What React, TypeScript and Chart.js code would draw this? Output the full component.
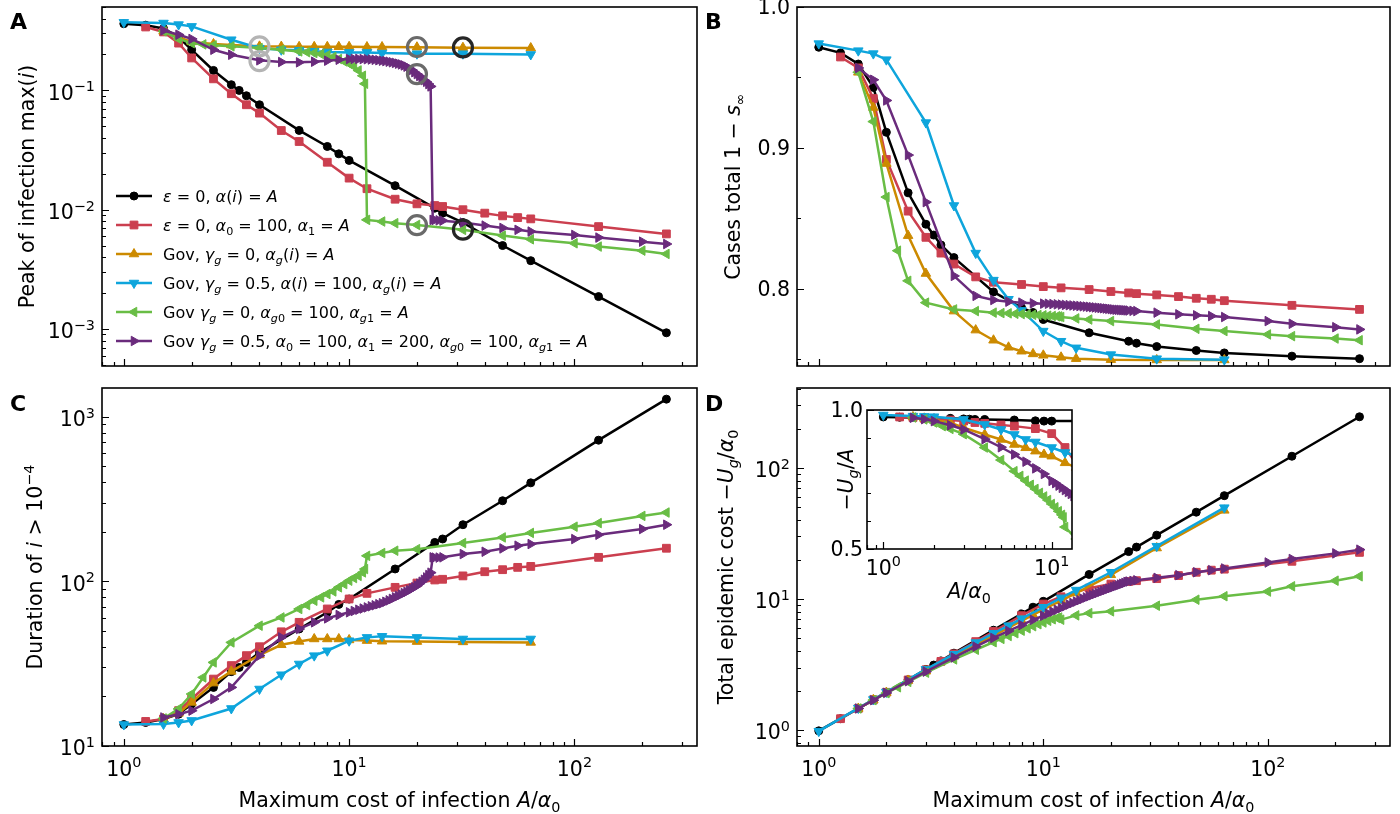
import React, { useEffect, useRef } from 'react';
import { Chart, registerables } from 'chart.js';

Chart.register(...registerables);

const W = 1400;
const H = 814;
const FONT = '"DejaVu Sans", "Liberation Sans", sans-serif';

const C_BLACK = '#000000';
const C_RED = '#cb3f4f';
const C_ORANGE = '#cc8a00';
const C_CYAN = '#0ea5dc';
const C_GREEN = '#69bd45';
const C_PURPLE = '#6a2b7c';

// ---------- x values (A/alpha0) ----------
const xBlack = [1, 1.25, 1.5, 1.75, 2, 2.5, 3, 3.25, 3.5, 4, 6, 8, 9, 10, 16, 24, 26, 32, 48, 64, 128, 256];
const xRed = [1.25, 1.5, 1.75, 2, 2.5, 3, 3.5, 4, 5, 6, 8, 10, 12, 16, 20, 24, 26, 32, 40, 48, 56, 64, 128, 256];
const xOrange = [1.5, 1.75, 2, 2.5, 3, 4, 5, 6, 7, 8, 9, 10, 12, 14, 20, 32, 64];
const xCyan = [1, 1.5, 1.75, 2, 3, 4, 5, 6, 7, 8, 10, 12, 14, 20, 32, 64];
const xGreen = [1.5, 1.75, 2, 2.25, 2.5, 3, 4, 5, 6, 6.5, 7, 7.5, 8, 8.5, 9, 9.5, 10, 10.5, 11, 11.5, 11.75, 12, 14, 16, 20, 32, 48, 64, 100, 128, 200, 256];
const xPurple = [1.5, 1.75, 2, 2.5, 3, 4, 5, 6, 7, 8, 9, 10, 10.5, 11, 11.5, 12, 12.5, 13, 13.5, 14, 14.5, 15, 15.5, 16, 16.5, 17, 17.5, 18, 18.5, 19, 19.5, 20, 20.5, 21, 21.5, 22, 22.5, 23, 23.5, 24, 25, 26, 32, 40, 48, 56, 64, 100, 128, 200, 256];

// ---------- Panel A: peak of infection ----------
const blackA = [0.362, 0.352, 0.33, 0.28, 0.219, 0.147, 0.1116, 0.1, 0.0902, 0.0758, 0.0462, 0.0339, 0.0294, 0.0259, 0.0159, 0.0103, 0.00935, 0.0078, 0.00501, 0.00374, 0.00187, 0.00093];
const redA = [0.34, 0.309, 0.249, 0.187, 0.125, 0.0938, 0.0758, 0.0645, 0.0461, 0.0373, 0.025, 0.0184, 0.015, 0.01225, 0.0112, 0.01084, 0.01064, 0.01, 0.00936, 0.00888, 0.00859, 0.00838, 0.00722, 0.00627];
const orangeA = [0.313, 0.279, 0.255, 0.245, 0.24, 0.234, 0.233, 0.232, 0.232, 0.232, 0.232, 0.232, 0.231, 0.231, 0.23, 0.228, 0.2265];
const cyanA = [0.372, 0.367, 0.356, 0.344, 0.266, 0.226, 0.219, 0.2165, 0.213, 0.21, 0.208, 0.208, 0.2055, 0.203, 0.203, 0.2];
const greenA = [0.3126, 0.27, 0.249, 0.243, 0.2386, 0.234, 0.2265, 0.2195, 0.2123, 0.209, 0.2057, 0.2018, 0.1968, 0.1906, 0.1834, 0.175, 0.1675, 0.159, 0.147, 0.1327, 0.1137, 0.00822, 0.00796, 0.00771, 0.00746, 0.00678, 0.00607, 0.00565, 0.00523, 0.00491, 0.00454, 0.00426];
const purpleA = [0.318, 0.293, 0.27, 0.219, 0.199, 0.1786, 0.173, 0.1718, 0.174, 0.1774, 0.1807, 0.183,
  0.1835, 0.1835, 0.183, 0.1825, 0.1815, 0.1805, 0.179, 0.1775, 0.176, 0.174, 0.172, 0.17, 0.1675, 0.165, 0.162, 0.158, 0.153, 0.148, 0.142, 0.137, 0.132, 0.127, 0.122, 0.118, 0.113, 0.108,
  0.00822, 0.0082, 0.00815, 0.0081, 0.0078, 0.00736, 0.00704, 0.00678, 0.00656, 0.00615, 0.00584, 0.0054, 0.00516];

// highlighted points (rings) in panel A
const ringLightX = [4, 4];
const ringLightY = [0.234, 0.176];
const ringMidX = [20, 20, 20];
const ringMidY = [0.231, 0.137, 0.00744];
const ringDarkX = [32, 32];
const ringDarkY = [0.229, 0.0068];

// ---------- Panel B: cases total ----------
const blackB = [0.9714, 0.9674, 0.9595, 0.9429, 0.911, 0.868, 0.8457, 0.838, 0.831, 0.822, 0.7976, 0.7864, 0.783, 0.778, 0.7686, 0.7626, 0.7612, 0.7588, 0.756, 0.7543, 0.752, 0.7502];
const redB = [0.9645, 0.9567, 0.935, 0.8917, 0.855, 0.8364, 0.8252, 0.8174, 0.8083, 0.8045, 0.8029, 0.8014, 0.8005, 0.7993, 0.7979, 0.7969, 0.7964, 0.7955, 0.7943, 0.7931, 0.7924, 0.7914, 0.7881, 0.7852];
const orangeB = [0.9536, 0.9286, 0.8888, 0.8376, 0.8107, 0.784, 0.7705, 0.7633, 0.7583, 0.7555, 0.7536, 0.7526, 0.7512, 0.7502, 0.7495, 0.7493, 0.7493];
const cyanB = [0.974, 0.969, 0.9669, 0.9626, 0.9179, 0.859, 0.8252, 0.806, 0.7924, 0.7845, 0.7698, 0.7626, 0.7579, 0.7531, 0.7502, 0.7495];
const greenB = [0.9536, 0.9186, 0.865, 0.8269, 0.8055, 0.79, 0.7852, 0.784, 0.7829, 0.7826, 0.7824, 0.7821, 0.7819, 0.7816, 0.7814, 0.7812, 0.781, 0.7807, 0.7805, 0.7803, 0.7802, 0.7798, 0.7788, 0.778, 0.7769, 0.7745, 0.7714, 0.7698, 0.7674, 0.7662, 0.7645, 0.7633];
const purpleB = [0.9567, 0.9483, 0.9336, 0.8948, 0.8614, 0.809, 0.7948, 0.7919, 0.7907, 0.79, 0.7895, 0.7893,
  0.7892, 0.789, 0.7888, 0.7886, 0.7884, 0.7882, 0.788, 0.7878, 0.7876, 0.7874, 0.7872, 0.787, 0.7868, 0.7866, 0.7864, 0.7862, 0.786, 0.7858, 0.7856, 0.7854, 0.7852, 0.785, 0.7849, 0.7848, 0.7847, 0.7846,
  0.7845, 0.7844, 0.7842, 0.784, 0.7829, 0.7817, 0.781, 0.7805, 0.7798, 0.7769, 0.775, 0.7726, 0.771];

// ---------- Panel C: duration ----------
const blackC = [13.5, 13.9, 14.6, 15.6, 18, 22.7, 28.3, 30, 32.2, 37, 51.4, 64.9, 72.5, 78.1, 119, 172.5, 181, 221, 309, 397, 721, 1280];
const redC = [14.1, 14.6, 16.4, 19.3, 25.5, 30.8, 35.4, 40.1, 49.4, 56.4, 68, 78.2, 84.6, 92, 97.7, 102, 103, 108, 114.5, 117.8, 121.7, 123.3, 140, 159];
const orangeC = [14.6, 15.8, 18.4, 24.1, 28.4, 35.7, 41.2, 43.2, 44.7, 44.7, 44.7, 44.1, 43.7, 43.3, 43.1, 42.9, 42.6];
const cyanC = [13.5, 13.6, 13.9, 14.3, 16.9, 22.2, 27.1, 31.5, 35.4, 37.9, 43.6, 45.7, 46.4, 45.7, 44.7, 44.7];
const greenC = [14.7, 16.8, 20.7, 26.1, 32.2, 42.6, 53.8, 60.4, 68, 71.8, 76.3, 80, 83.8, 86.9, 92, 96.3, 101, 104.8, 108, 113.4, 118.9, 143, 148.7, 153.6, 157, 171, 185, 197, 215, 226, 250, 262];
const purpleC = [14.9, 15.6, 16.4, 19.3, 22.7, 35.4, 45.7, 51.4, 56.4, 59.6, 62.5, 64.9,
  66.1, 67.3, 68.4, 69.5, 70.6, 71.6, 72.7, 73.7, 75.2, 76.7, 78.3, 80, 81.6, 83.2, 84.9, 86.5, 88.4, 90.3, 92.2, 94.2, 96.9, 99.6, 102.3, 105.7, 109.3, 113,
  140, 139.5, 139.5, 140, 146.6, 151.4, 158.6, 164.8, 168.6, 180.8, 192, 208, 221];

// ---------- Panel D: total epidemic cost ----------
const blackD = [0.985, 1.22, 1.46, 1.7, 1.94, 2.42, 2.9, 3.13, 3.37, 3.86, 5.78, 7.7, 8.66, 9.6, 15.4, 23, 24.9, 30.7, 46, 61.5, 123, 246];
const redD = [1.22, 1.46, 1.7, 1.94, 2.41, 2.88, 3.34, 3.81, 4.73, 5.65, 7.46, 9.15, 10.4, 12.1, 13.0, 13.6, 13.8, 14.3, 15.1, 16.0, 16.6, 16.9, 19.4, 22.7];
const orangeD = [1.46, 1.7, 1.93, 2.39, 2.81, 3.65, 4.47, 5.26, 6.05, 6.82, 7.56, 8.34, 9.72, 11.1, 15.3, 24.5, 47.5];
const cyanD = [0.98, 1.47, 1.71, 1.95, 2.9, 3.79, 4.65, 5.47, 6.26, 7.08, 8.65, 10.2, 11.7, 16.0, 25.3, 49.8];
const greenD = [1.46, 1.69, 1.91, 2.12, 2.33, 2.74, 3.46, 4.1, 4.68, 4.96, 5.22, 5.48, 5.73, 5.97, 6.2, 6.42, 6.62, 6.82, 7.0, 7.17, 7.22, 6.95, 7.5, 7.8, 8.05, 8.89, 9.88, 10.5, 11.4, 12.5, 13.8, 14.9];
const purpleD = [1.46, 1.69, 1.92, 2.36, 2.79, 3.58, 4.33, 5.04, 5.7, 6.32, 6.93, 7.45,
  7.74, 8.01, 8.28, 8.54, 8.81, 9.07, 9.32, 9.56, 9.8, 10.04, 10.28, 10.5, 10.72, 10.94, 11.15, 11.36, 11.56, 11.76, 11.96, 12.15, 12.34, 12.53, 12.72, 12.9, 13.08, 13.26,
  13.5, 13.6, 13.75, 13.9, 14.5, 15.2, 16.0, 16.6, 17.1, 19.0, 20.2, 22.3, 23.8];

// ---------- Inset of D: -U_g / A ----------
const blackIn = [0.975, 0.974, 0.973, 0.972, 0.971, 0.97, 0.968, 0.967, 0.966, 0.966, 0.964, 0.961, 0.96, 0.96, 0.96, 0.959];
const redIn = [0.975, 0.973, 0.97, 0.968, 0.964, 0.96, 0.955, 0.952, 0.946, 0.942, 0.933, 0.915, 0.865, 0.756];
const orangeIn = [0.975, 0.97, 0.964, 0.954, 0.936, 0.912, 0.894, 0.876, 0.864, 0.852, 0.84, 0.834, 0.81, 0.793, 0.765];
const cyanIn = [0.982, 0.978, 0.977, 0.976, 0.966, 0.948, 0.93, 0.912, 0.894, 0.885, 0.865, 0.847, 0.835, 0.8];
const greenIn = [0.973, 0.966, 0.955, 0.942, 0.932, 0.913, 0.865, 0.82, 0.78, 0.763, 0.746, 0.731, 0.716, 0.702, 0.689, 0.676, 0.662, 0.65, 0.636, 0.623, 0.614, 0.579, 0.536, 0.488];
const purpleIn = [0.972, 0.967, 0.96, 0.945, 0.93, 0.895, 0.866, 0.84, 0.814, 0.79, 0.77, 0.745, 0.737, 0.728, 0.72, 0.712, 0.705, 0.698, 0.69, 0.683, 0.676];

// ---------- series styles ----------
type Style = { color: string; shape: 'circle' | 'rect' | 'triangle'; rot: number; r: number; order: number };
const S_BLACK: Style = { color: C_BLACK, shape: 'circle', rot: 0, r: 4, order: 6 };
const S_RED: Style = { color: C_RED, shape: 'rect', rot: 0, r: 5.5, order: 5 };
const S_ORANGE: Style = { color: C_ORANGE, shape: 'triangle', rot: 0, r: 5.5, order: 4 };
const S_CYAN: Style = { color: C_CYAN, shape: 'triangle', rot: 180, r: 5.5, order: 3 };
const S_GREEN: Style = { color: C_GREEN, shape: 'triangle', rot: -90, r: 5.5, order: 2 };
const S_PURPLE: Style = { color: C_PURPLE, shape: 'triangle', rot: 90, r: 5.5, order: 1 };
const LEGEND_STYLES = [S_BLACK, S_RED, S_ORANGE, S_CYAN, S_GREEN, S_PURPLE];

type Seg = { t: string; i?: boolean; sub?: boolean; sup?: boolean };

const LEGEND_LABELS: Seg[][] = [
  [{ t: 'ε', i: true }, { t: ' = 0, ' }, { t: 'α', i: true }, { t: '(' }, { t: 'i', i: true }, { t: ') = ' }, { t: 'A', i: true }],
  [{ t: 'ε', i: true }, { t: ' = 0, ' }, { t: 'α', i: true }, { t: '0', sub: true }, { t: ' = 100, ' }, { t: 'α', i: true }, { t: '1', sub: true }, { t: ' = ' }, { t: 'A', i: true }],
  [{ t: 'Gov, ' }, { t: 'γ', i: true }, { t: 'g', i: true, sub: true }, { t: ' = 0, ' }, { t: 'α', i: true }, { t: 'g', i: true, sub: true }, { t: '(' }, { t: 'i', i: true }, { t: ') = ' }, { t: 'A', i: true }],
  [{ t: 'Gov, ' }, { t: 'γ', i: true }, { t: 'g', i: true, sub: true }, { t: ' = 0.5, ' }, { t: 'α', i: true }, { t: '(' }, { t: 'i', i: true }, { t: ') = 100, ' }, { t: 'α', i: true }, { t: 'g', i: true, sub: true }, { t: '(' }, { t: 'i', i: true }, { t: ') = ' }, { t: 'A', i: true }],
  [{ t: 'Gov ' }, { t: 'γ', i: true }, { t: 'g', i: true, sub: true }, { t: ' = 0, ' }, { t: 'α', i: true }, { t: 'g', i: true, sub: true }, { t: '0', sub: true }, { t: ' = 100, ' }, { t: 'α', i: true }, { t: 'g', i: true, sub: true }, { t: '1', sub: true }, { t: ' = ' }, { t: 'A', i: true }],
  [{ t: 'Gov ' }, { t: 'γ', i: true }, { t: 'g', i: true, sub: true }, { t: ' = 0.5, ' }, { t: 'α', i: true }, { t: '0', sub: true }, { t: ' = 100, ' }, { t: 'α', i: true }, { t: '1', sub: true }, { t: ' = 200, ' }, { t: 'α', i: true }, { t: 'g', i: true, sub: true }, { t: '0', sub: true }, { t: ' = 100, ' }, { t: 'α', i: true }, { t: 'g', i: true, sub: true }, { t: '1', sub: true }, { t: ' = ' }, { t: 'A', i: true }],
];

const X_TITLE: Seg[] = [{ t: 'Maximum cost of infection ' }, { t: 'A', i: true }, { t: '/' }, { t: 'α', i: true }, { t: '0', sub: true }];
const Y_TITLE_A: Seg[] = [{ t: 'Peak of infection max(' }, { t: 'i', i: true }, { t: ')' }];
const Y_TITLE_B: Seg[] = [{ t: 'Cases total 1 − ' }, { t: 's', i: true }, { t: '∞', sub: true }];
const Y_TITLE_C: Seg[] = [{ t: 'Duration of ' }, { t: 'i', i: true }, { t: ' > 10' }, { t: '−4', sup: true }];
const Y_TITLE_D: Seg[] = [{ t: 'Total epidemic cost −' }, { t: 'U', i: true }, { t: 'g', i: true, sub: true }, { t: '/' }, { t: 'α', i: true }, { t: '0', sub: true }];
const Y_TITLE_IN: Seg[] = [{ t: '−' }, { t: 'U', i: true }, { t: 'g', i: true, sub: true }, { t: '/' }, { t: 'A', i: true }];
const X_TITLE_IN: Seg[] = [{ t: 'A', i: true }, { t: '/' }, { t: 'α', i: true }, { t: '0', sub: true }];

const pow10 = (e: string): Seg[] => [{ t: '10' }, { t: e, sup: true }];
const plain = (s: string): Seg[] => [{ t: s }];

const A_YTICKS: [number, Seg[]][] = [[0.1, pow10('−1')], [0.01, pow10('−2')], [0.001, pow10('−3')]];
const B_YTICKS: [number, Seg[]][] = [[1.0, plain('1.0')], [0.9, plain('0.9')], [0.8, plain('0.8')]];
const B_YMINOR = [0.95, 0.85, 0.75];
const C_YTICKS: [number, Seg[]][] = [[1000, pow10('3')], [100, pow10('2')], [10, pow10('1')]];
const D_YTICKS: [number, Seg[]][] = [[100, pow10('2')], [10, pow10('1')], [1, pow10('0')]];
const X_TICKS: [number, Seg[]][] = [[1, pow10('0')], [10, pow10('1')], [100, pow10('2')]];
const IN_YTICKS: [number, Seg[]][] = [[1.0, plain('1.0')], [0.5, plain('0.5')]];
const IN_YMINOR = [0.6, 0.7, 0.8, 0.9];
const IN_XTICKS: [number, Seg[]][] = [[1, pow10('0')], [10, pow10('1')]];

// ---------- drawing helpers ----------
function segSize(s: Seg, size: number) {
  return s.sub || s.sup ? size * 0.7 : size;
}
function segFont(s: Seg, size: number, bold = false) {
  return `${s.i ? 'italic ' : ''}${bold ? 'bold ' : ''}${segSize(s, size)}px ${FONT}`;
}
function richWidth(ctx: CanvasRenderingContext2D, segs: Seg[], size: number, bold = false) {
  let w = 0;
  for (const s of segs) {
    ctx.font = segFont(s, size, bold);
    w += ctx.measureText(s.t).width;
  }
  return w;
}
function drawRich(ctx: CanvasRenderingContext2D, segs: Seg[], x: number, y: number, size: number,
  align: 'left' | 'center' | 'right', rotate = false, bold = false) {
  ctx.save();
  ctx.translate(x, y);
  if (rotate) ctx.rotate(-Math.PI / 2);
  const w = richWidth(ctx, segs, size, bold);
  let cx = align === 'left' ? 0 : align === 'center' ? -w / 2 : -w;
  ctx.fillStyle = '#000';
  ctx.textBaseline = 'alphabetic';
  ctx.textAlign = 'left';
  for (const s of segs) {
    ctx.font = segFont(s, size, bold);
    const dy = s.sub ? size * 0.22 : s.sup ? -size * 0.42 : 0;
    ctx.fillText(s.t, cx, dy);
    cx += ctx.measureText(s.t).width;
  }
  ctx.restore();
}
function hasSup(segs: Seg[]) {
  return segs.some((s) => s.sup);
}
function drawMarker(ctx: CanvasRenderingContext2D, st: Style, x: number, y: number) {
  ctx.save();
  ctx.fillStyle = st.color;
  ctx.strokeStyle = st.color;
  ctx.lineWidth = 1;
  ctx.beginPath();
  if (st.shape === 'circle') {
    ctx.arc(x, y, st.r, 0, Math.PI * 2);
  } else if (st.shape === 'rect') {
    const s = Math.SQRT1_2 * st.r;
    ctx.rect(x - s, y - s, 2 * s, 2 * s);
  } else {
    let rad = (st.rot * Math.PI) / 180;
    ctx.moveTo(x + Math.sin(rad) * st.r, y - Math.cos(rad) * st.r);
    rad += (2 * Math.PI) / 3;
    ctx.lineTo(x + Math.sin(rad) * st.r, y - Math.cos(rad) * st.r);
    rad += (2 * Math.PI) / 3;
    ctx.lineTo(x + Math.sin(rad) * st.r, y - Math.cos(rad) * st.r);
    ctx.closePath();
  }
  ctx.fill();
  ctx.stroke();
  ctx.restore();
}
function logTicks(min: number, max: number) {
  const out: { v: number; major: boolean }[] = [];
  for (let d = Math.floor(Math.log10(min)); d <= Math.ceil(Math.log10(max)); d++) {
    for (let m = 1; m <= 9; m++) {
      const v = m * Math.pow(10, d);
      if (v >= min * 0.9999 && v <= max * 1.0001) out.push({ v, major: m === 1 });
    }
  }
  return out;
}

function zip(xs: number[], ys: number[]) {
  const n = Math.min(xs.length, ys.length);
  const out: { x: number; y: number }[] = [];
  for (let i = 0; i < n; i++) out.push({ x: xs[i], y: ys[i] });
  return out;
}

function series(xs: number[], ys: number[], st: Style, clip?: number) {
  const ds: any = {
    data: zip(xs, ys),
    borderColor: st.color,
    backgroundColor: st.color,
    borderWidth: 2.5,
    pointStyle: st.shape,
    pointRotation: st.rot,
    pointRadius: st.r,
    pointBackgroundColor: st.color,
    pointBorderColor: st.color,
    pointBorderWidth: 1,
    tension: 0,
    fill: false,
    order: st.order,
  };
  if (clip !== undefined) ds.clip = clip;
  return ds;
}
function rings(xs: number[], ys: number[], color: string) {
  return {
    data: zip(xs, ys),
    showLine: false,
    pointStyle: 'circle',
    pointRadius: 9.5,
    pointBorderWidth: 3.2,
    pointBorderColor: color,
    pointBackgroundColor: 'rgba(0,0,0,0)',
    borderColor: color,
    backgroundColor: 'rgba(0,0,0,0)',
    order: 0,
  };
}

type Panel = {
  id: string;
  L: number; T: number; R: number; B: number;
  xMin: number; xMax: number;
  yLog: boolean; yMin: number; yMax: number;
  yTicks: [number, Seg[]][];
  yMinor?: number[];
  xTicks?: [number, Seg[]][];
  yTitle: Seg[]; yTitleX: number;
  xTitle?: Seg[]; xTitleY?: number; xTitleX?: number;
  letter?: string; letterX?: number; letterY?: number;
  legend?: boolean;
  whiteBg?: boolean;
  datasets: any[];
  tickSize: number; titleSize: number;
  xLabelDy: number;
  labelPad: number;
};

function decor(p: Panel) {
  return {
    id: 'decor_' + p.id,
    beforeDatasetsDraw(chart: any) {
      if (!p.whiteBg) return;
      const ctx = chart.ctx as CanvasRenderingContext2D;
      ctx.save();
      ctx.fillStyle = '#ffffff';
      ctx.fillRect(p.L, p.T, p.R - p.L, p.B - p.T);
      ctx.restore();
    },
    afterDraw(chart: any) {
      const ctx = chart.ctx as CanvasRenderingContext2D;
      const xs = chart.scales.x;
      const ys = chart.scales.y;
      ctx.save();
      ctx.strokeStyle = '#000';
      ctx.lineWidth = 1.6;
      ctx.strokeRect(p.L, p.T, p.R - p.L, p.B - p.T);
      ctx.lineWidth = 1.2;
      ctx.beginPath();
      for (const t of logTicks(p.xMin, p.xMax)) {
        const px = Math.round(xs.getPixelForValue(t.v)) + 0.5;
        ctx.moveTo(px, p.B);
        ctx.lineTo(px, p.B - (t.major ? 7 : 4));
      }
      if (p.yLog) {
        for (const t of logTicks(p.yMin, p.yMax)) {
          const py = Math.round(ys.getPixelForValue(t.v)) + 0.5;
          ctx.moveTo(p.L, py);
          ctx.lineTo(p.L + (t.major ? 7 : 4), py);
        }
      } else {
        for (const [v] of p.yTicks) {
          const py = Math.round(ys.getPixelForValue(v)) + 0.5;
          ctx.moveTo(p.L, py);
          ctx.lineTo(p.L + 7, py);
        }
        for (const v of p.yMinor || []) {
          const py = Math.round(ys.getPixelForValue(v)) + 0.5;
          ctx.moveTo(p.L, py);
          ctx.lineTo(p.L + 4, py);
        }
      }
      ctx.stroke();

      // tick labels
      for (const [v, segs] of p.yTicks) {
        const py = ys.getPixelForValue(v);
        const by = py + p.tickSize * (hasSup(segs) ? 0.46 : 0.36);
        drawRich(ctx, segs, p.L - p.labelPad, by, p.tickSize, 'right');
      }
      for (const [v, segs] of p.xTicks || []) {
        const px = xs.getPixelForValue(v);
        drawRich(ctx, segs, px, p.B + p.xLabelDy, p.tickSize, 'center');
      }
      // titles
      const cy = (p.T + p.B) / 2;
      drawRich(ctx, p.yTitle, p.yTitleX + p.titleSize * 0.36, cy, p.titleSize, 'center', true);
      if (p.xTitle) {
        drawRich(ctx, p.xTitle, p.xTitleX ?? (p.L + p.R) / 2, p.xTitleY!, p.titleSize, 'center');
      }
      if (p.letter) {
        drawRich(ctx, [{ t: p.letter }], p.letterX!, p.letterY!, 22, 'left', false, true);
      }
      if (p.legend) {
        for (let k = 0; k < LEGEND_STYLES.length; k++) {
          const st = LEGEND_STYLES[k];
          const y = 196 + 29 * k;
          ctx.save();
          ctx.strokeStyle = st.color;
          ctx.lineWidth = 2.5;
          ctx.beginPath();
          ctx.moveTo(116, y);
          ctx.lineTo(152, y);
          ctx.stroke();
          ctx.restore();
          drawMarker(ctx, st, 134, y);
          drawRich(ctx, LEGEND_LABELS[k], 163, y + 6, 16, 'left');
        }
      }
      ctx.restore();
    },
  };
}

const TICK = 20.5;
const TITLE = 20.5;

const PANELS: Panel[] = [
  {
    id: 'A', L: 102, T: 7, R: 697, B: 366, xMin: 0.8, xMax: 350,
    yLog: true, yMin: 4.9e-4, yMax: 0.5, yTicks: A_YTICKS,
    yTitle: Y_TITLE_A, yTitleX: 27, letter: 'A', letterX: 10, letterY: 29, legend: true,
    tickSize: TICK, titleSize: TITLE, xLabelDy: 30, labelPad: 7,
    datasets: [
      series(xBlack, blackA, S_BLACK), series(xRed, redA, S_RED), series(xOrange, orangeA, S_ORANGE),
      series(xCyan, cyanA, S_CYAN), series(xGreen, greenA, S_GREEN), series(xPurple, purpleA, S_PURPLE),
      rings(ringLightX, ringLightY, '#b4b4b4'), rings(ringMidX, ringMidY, '#6a6a6a'), rings(ringDarkX, ringDarkY, '#262626'),
    ],
  },
  {
    id: 'B', L: 797, T: 7, R: 1390, B: 366, xMin: 0.8, xMax: 350,
    yLog: false, yMin: 0.745, yMax: 1.0, yTicks: B_YTICKS, yMinor: B_YMINOR,
    yTitle: Y_TITLE_B, yTitleX: 733, letter: 'B', letterX: 705, letterY: 29,
    tickSize: TICK, titleSize: TITLE, xLabelDy: 30, labelPad: 7,
    datasets: [
      series(xBlack, blackB, S_BLACK), series(xRed, redB, S_RED), series(xOrange, orangeB, S_ORANGE),
      series(xCyan, cyanB, S_CYAN), series(xGreen, greenB, S_GREEN), series(xPurple, purpleB, S_PURPLE),
    ],
  },
  {
    id: 'C', L: 102, T: 388, R: 697, B: 746, xMin: 0.8, xMax: 350,
    yLog: true, yMin: 10, yMax: 1496, yTicks: C_YTICKS, xTicks: X_TICKS,
    yTitle: Y_TITLE_C, yTitleX: 35, xTitle: X_TITLE, xTitleY: 807,
    letter: 'C', letterX: 10, letterY: 411,
    tickSize: TICK, titleSize: TITLE, xLabelDy: 30, labelPad: 7,
    datasets: [
      series(xBlack, blackC, S_BLACK), series(xRed, redC, S_RED), series(xOrange, orangeC, S_ORANGE),
      series(xCyan, cyanC, S_CYAN), series(xGreen, greenC, S_GREEN), series(xPurple, purpleC, S_PURPLE),
    ],
  },
  {
    id: 'D', L: 797, T: 388, R: 1390, B: 746, xMin: 0.8, xMax: 350,
    yLog: true, yMin: 0.755, yMax: 408, yTicks: D_YTICKS, xTicks: X_TICKS,
    yTitle: Y_TITLE_D, yTitleX: 726, xTitle: X_TITLE, xTitleY: 807,
    letter: 'D', letterX: 705, letterY: 411,
    tickSize: TICK, titleSize: TITLE, xLabelDy: 30, labelPad: 7,
    datasets: [
      series(xBlack, blackD, S_BLACK), series(xRed, redD, S_RED), series(xOrange, orangeD, S_ORANGE),
      series(xCyan, cyanD, S_CYAN), series(xGreen, greenD, S_GREEN), series(xPurple, purpleD, S_PURPLE),
    ],
  },
  {
    id: 'In', L: 867, T: 410, R: 1072, B: 549, xMin: 0.8, xMax: 13.2,
    yLog: false, yMin: 0.5, yMax: 1.0, yTicks: IN_YTICKS, yMinor: IN_YMINOR, xTicks: IN_XTICKS,
    yTitle: Y_TITLE_IN, yTitleX: 846, xTitle: X_TITLE_IN, xTitleY: 598, xTitleX: 969,
    whiteBg: true,
    tickSize: TICK, titleSize: TITLE, xLabelDy: 26, labelPad: 4,
    datasets: [
      series(xBlack, blackIn, S_BLACK, 0), series(xRed, redIn, S_RED, 0), series(xOrange, orangeIn, S_ORANGE, 0),
      series(xCyan, cyanIn, S_CYAN, 0), series(xGreen, greenIn, S_GREEN, 0), series(xPurple, purpleIn, S_PURPLE, 0),
    ],
  },
];

function PanelChart({ p }: { p: Panel }) {
  const ref = useRef<HTMLCanvasElement>(null);
  useEffect(() => {
    const cfg: any = {
      type: 'line',
      data: { datasets: p.datasets },
      options: {
        animation: false,
        responsive: false,
        maintainAspectRatio: false,
        events: [],
        layout: { autoPadding: false, padding: { left: p.L, top: p.T, right: W - p.R, bottom: H - p.B } },
        scales: {
          x: { type: 'logarithmic', min: p.xMin, max: p.xMax, display: false },
          y: { type: p.yLog ? 'logarithmic' : 'linear', min: p.yMin, max: p.yMax, display: false },
        },
        plugins: { legend: { display: false }, tooltip: { enabled: false } },
      },
      plugins: [decor(p)],
    };
    const chart = new Chart(ref.current as HTMLCanvasElement, cfg);
    return () => chart.destroy();
  }, []);
  return (
    <canvas
      ref={ref}
      width={W}
      height={H}
      style={{ position: 'absolute', left: 0, top: 0, width: W, height: H }}
    />
  );
}

export default function App() {
  return (
    <div style={{ position: 'absolute', left: 0, top: 0, width: W, height: H, background: '#ffffff', overflow: 'hidden' }}>
      {PANELS.map((p) => (
        <PanelChart key={p.id} p={p} />
      ))}
    </div>
  );
}
